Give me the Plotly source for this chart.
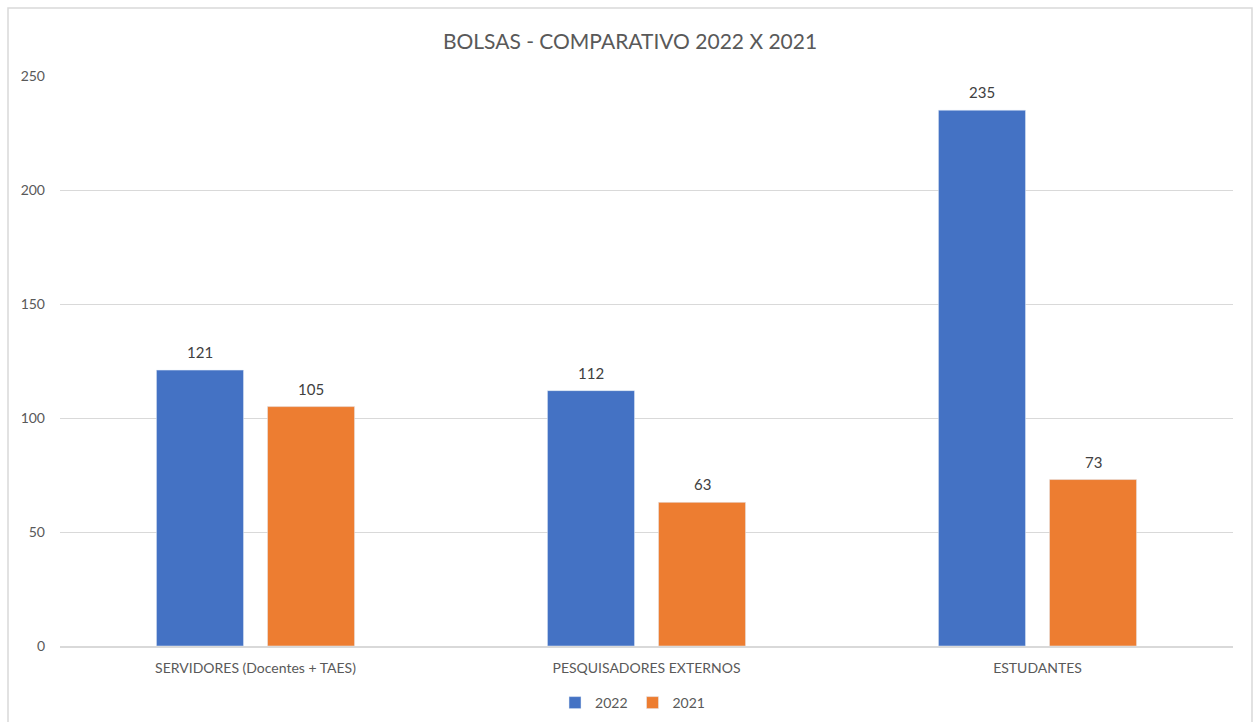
import plotly.graph_objects as go

categories = ["SERVIDORES (Docentes + TAES)", "PESQUISADORES EXTERNOS", "ESTUDANTES"]
values_2022 = [121, 112, 235]
values_2021 = [105, 63, 73]
y_ticks = [0, 50, 100, 150, 200, 250]

W, H = 1255, 722
L, R, T, B = 60, 22, 76, 76
FONT = "Lato, 'Open Sans', Arial, sans-serif"
BARGAP, GROUPGAP = 0.432, 0.216

fig = go.Figure()
fig.add_trace(go.Bar(name="2022", x=categories, y=values_2022, marker_color="#4472C4"))
fig.add_trace(go.Bar(name="2021", x=categories, y=values_2021, marker_color="#ED7D31"))

# data labels above bars (positions derived from the data and the bar layout)
off = (1 - BARGAP) / 4
for sign, vals in ((-1, values_2022), (1, values_2021)):
    for i, v in enumerate(vals):
        fig.add_annotation(x=i + sign * off, y=v, text=str(v), showarrow=False,
                           xref="x", yref="y", yanchor="bottom", yshift=7,
                           font=dict(size=15, color="#404040", family=FONT))

pw = W - L - R
ph = H - T - B
fig.add_shape(type="rect", xref="paper", yref="paper",
              x0=(8 - L) / pw, x1=(1252 - L) / pw,
              y0=(H - T - 740) / ph, y1=(H - T - 8) / ph,
              line=dict(color="#D9D9D9", width=1.5), fillcolor="rgba(0,0,0,0)", layer="below")

fig.update_layout(
    width=W, height=H,
    margin=dict(l=L, r=R, t=T, b=B),
    paper_bgcolor="white", plot_bgcolor="white",
    barmode="group", bargap=BARGAP, bargroupgap=GROUPGAP,
    font=dict(family=FONT, color="#595959", size=14),
    title=dict(text="BOLSAS - COMPARATIVO 2022 X 2021", x=0.502, xref="container", xanchor="center",
               y=1 - 42 / H, yref="container", yanchor="middle",
               font=dict(size=21, color="#595959", family=FONT)),
    legend=dict(orientation="h", xref="container", yref="container", x=0.504, xanchor="center",
                y=1 - 703 / H, yanchor="middle", font=dict(size=14, color="#595959"),
                itemwidth=30, traceorder="normal"),
    showlegend=True,
)
fig.update_yaxes(range=[0, 250], tickvals=y_ticks, showgrid=True, gridcolor="#D9D9D9", gridwidth=1,
                 zeroline=False, showline=False, ticks="", ticklabelstandoff=14,
                 tickfont=dict(size=14, color="#595959"))
fig.update_xaxes(showline=True, linecolor="#D9D9D9", linewidth=1.5, ticks="",
                 ticklabelstandoff=8, tickfont=dict(size=14, color="#595959"))

fig.write_html("out.html", config={"displayModeBar": False},
               post_script="document.body.style.margin='0';")
